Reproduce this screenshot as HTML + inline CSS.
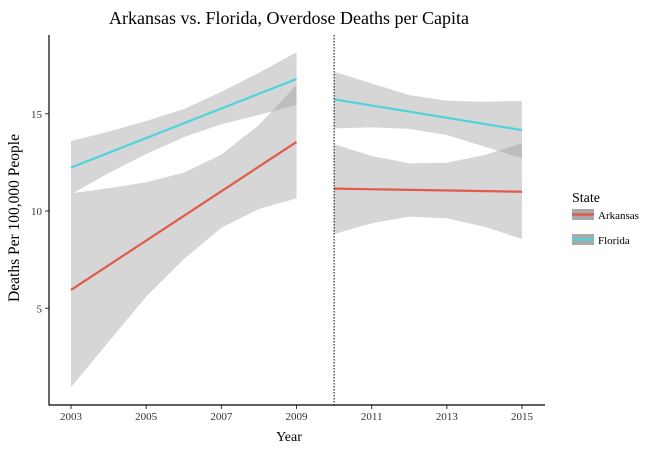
<!DOCTYPE html>
<html><head><meta charset="utf-8"><style>
body{margin:0;background:#fff}
svg{display:block;font-family:"Liberation Serif",serif}
</style></head><body>
<svg id="chart" width="670" height="453" viewBox="0 0 670 453">
<text x="289" y="24" font-size="18" text-anchor="middle">Arkansas vs. Florida, Overdose Deaths per Capita</text>
<g id="plot"></g>
<line x1="49" y1="405" x2="545" y2="405" stroke="#000" stroke-width="1.2"/>
<line x1="49" y1="35" x2="49" y2="405.5" stroke="#000" stroke-width="1.2"/>
<text x="289" y="441" font-size="14" text-anchor="middle">Year</text>
<text transform="translate(19,218) rotate(-90)" font-size="15.5" text-anchor="middle">Deaths Per 100,000 People</text>
<g>
<text x="572" y="202" font-size="14">State</text>
<g>
<rect x="572" y="209" width="22" height="11" fill="#a9a9a9"/><line x1="572" y1="214.5" x2="594" y2="214.5" stroke="#e05a4e" stroke-width="2.5"/>
<text x="598" y="219" font-size="11">Arkansas</text></g>
<g>
<rect x="572" y="234" width="22" height="11" fill="#a9a9a9"/><line x1="572" y1="239.5" x2="594" y2="239.5" stroke="#4fd3dc" stroke-width="2.5"/>
<text x="598" y="244" font-size="11">Florida</text></g>
</g>
</svg>
<script>
const preYears=[2003,2004,2005,2006,2007,2008,2009];
const postYears=[2010,2011,2012,2013,2014,2015];
const arPreUpper=[10.91,11.17,11.48,11.97,12.9,14.42,16.48];
const arPreLower=[0.94,3.28,5.6,7.52,9.14,10.1,10.65];
const flPreUpper=[13.6,14.08,14.63,15.24,16.13,17.11,18.16];
const flPreLower=[10.86,11.95,12.93,13.79,14.46,14.94,15.45];
const arPreLine=[5.94,13.55];
const flPreLine=[12.23,16.79];
const arPostUpper=[13.44,12.83,12.45,12.48,12.88,13.48];
const arPostLower=[8.82,9.37,9.71,9.62,9.19,8.56];
const flPostUpper=[17.16,16.56,15.96,15.67,15.62,15.66];
const flPostLower=[14.25,14.3,14.22,13.91,13.31,12.71];
const arPostLine=[11.15,10.99];
const flPostLine=[15.74,14.16];
const xTicks=[2003,2005,2007,2009,2011,2013,2015];
const yTicks=[5,10,15];
const breakYear=2010;

const NS="http://www.w3.org/2000/svg";
const X=y=>71+(y-2003)*(451/12);
const Y=v=>405.5-v*19.45;
const g=document.getElementById('plot');
function mk(t,a){const e=document.createElementNS(NS,t);for(const k in a)e.setAttribute(k,a[k]);g.appendChild(e);return e;}
function band(yrs,up,lo,name){
  const pts=yrs.map((y,i)=>X(y)+','+Y(up[i])).concat(yrs.map((y,i)=>X(y)+','+Y(lo[i])).reverse());
  const e=mk('polygon',{points:pts.join(' '),fill:'rgb(153,153,153)','fill-opacity':0.4});
  
  
}
function line(yrs,vals,col,name){
  const e=mk('line',{x1:X(yrs[0]),y1:Y(vals[0]),x2:X(yrs[yrs.length-1]),y2:Y(vals[1]),stroke:col,'stroke-width':2.2});
  
  
}
band(preYears,arPreUpper,arPreLower,'arkansas-pre-ci-band');
band(preYears,flPreUpper,flPreLower,'florida-pre-ci-band');
band(postYears,arPostUpper,arPostLower,'arkansas-post-ci-band');
band(postYears,flPostUpper,flPostLower,'florida-post-ci-band');
line(preYears,arPreLine,'#e05a4e','arkansas-pre-line');
line(preYears,flPreLine,'#4fd3dc','florida-pre-line');
line(postYears,arPostLine,'#e05a4e','arkansas-post-line');
line(postYears,flPostLine,'#4fd3dc','florida-post-line');
const vl=mk('line',{x1:X(breakYear),y1:35,x2:X(breakYear),y2:405,stroke:'#000','stroke-width':1,'stroke-dasharray':'1.5,1.5'});


xTicks.forEach(t=>{
  const tk=mk('line',{x1:X(t),y1:405,x2:X(t),y2:409,stroke:'#333'});
  
  
  const tx=mk('text',{x:X(t),y:420,'font-size':11,'text-anchor':'middle',fill:'#333'});
  tx.textContent=t;
  
  
});
yTicks.forEach(t=>{
  const tk=mk('line',{x1:45,y1:Y(t),x2:49,y2:Y(t),stroke:'#333'});
  
  
  const tx=mk('text',{x:42,y:Y(t)+4,'font-size':11,'text-anchor':'end',fill:'#333'});
  tx.textContent=t;
  
  
});
</script>
</body></html>
